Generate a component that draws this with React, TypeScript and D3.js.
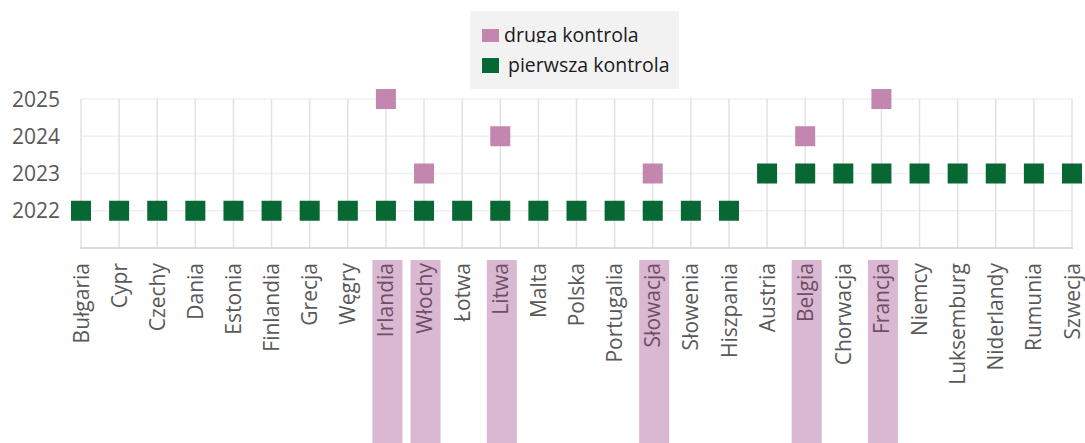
import React from "react";
import * as d3 from "d3";

// kraje w kolejności z wykresu
const countries = [
  "Bułgaria", "Cypr", "Czechy", "Dania", "Estonia", "Finlandia", "Grecja", "Węgry",
  "Irlandia", "Włochy", "Łotwa", "Litwa", "Malta", "Polska", "Portugalia", "Słowacja",
  "Słowenia", "Hiszpania", "Austria", "Belgia", "Chorwacja", "Francja", "Niemcy",
  "Luksemburg", "Niderlandy", "Rumunia", "Szwecja",
];

// rok pierwszej kontroli
const firstCheck = [
  2022, 2022, 2022, 2022, 2022, 2022, 2022, 2022, 2022, 2022, 2022, 2022, 2022, 2022,
  2022, 2022, 2022, 2022, 2023, 2023, 2023, 2023, 2023, 2023, 2023, 2023, 2023,
];

// druga kontrola (tylko część krajów)
const secondCountries = ["Irlandia", "Włochy", "Litwa", "Słowacja", "Belgia", "Francja"];
const secondCheck = [2025, 2023, 2024, 2023, 2024, 2025];

const yearTicks = [2022, 2023, 2024, 2025];

const W = 1085;
const H = 443;
const font = "'Open Sans', sans-serif";
const green = "#076833";
const pink = "#c386af";

export default function App() {
  const x = d3.scalePoint<string>().domain(countries).range([81, 1072]);
  const y = d3.scaleLinear().domain([2021, 2025]).range([248, 99]);
  const sq = 20;

  return (
    <svg
      width={W}
      height={H}
      style={{ position: "absolute", left: 0, top: 0, background: "#fff" }}
      fontFamily={font}
    >
      <defs>
        <clipPath id="legClip">
          <rect x={470} y={11} width={210} height={31.5} />
        </clipPath>
      </defs>

      {/* siatka pozioma */}
      {yearTicks.map((t) => (
        <line key={"h" + t} x1={81} x2={1072} y1={y(t)} y2={y(t)} stroke="#f0f0f0" strokeWidth={1.5} />
      ))}
      {/* siatka pionowa */}
      {countries.map((c) => (
        <line key={"v" + c} x1={x(c)} x2={x(c)} y1={y(2025)} y2={y(2021)} stroke="#e2e2e2" strokeWidth={1.5} />
      ))}
      {/* oś dolna */}
      <line x1={80} x2={1073} y1={y(2021)} y2={y(2021)} stroke="#d0d0d0" strokeWidth={1.5} />

      {/* etykiety osi Y */}
      {yearTicks.map((t) => (
        <text key={"yl" + t} x={60} y={y(t)} dy="0.36em" textAnchor="end" fontSize={21} fill="#595959">
          {t}
        </text>
      ))}

      {/* tło wyróżnionych krajów */}
      {secondCountries.map((c) => (
        <rect key={"bg" + c} x={(x(c) as number) - 13.5} y={260} width={30} height={H - 260} fill="#dab8d2" />
      ))}

      {/* etykiety osi X */}
      {countries.map((c) => {
        const hl = secondCountries.includes(c);
        return (
          <text
            key={"xl" + c}
            transform={`translate(${x(c)},263) rotate(-90)`}
            textAnchor="end"
            dy="0.36em"
            fontSize={21}
            fill={hl ? "#6d4f66" : "#595959"}
          >
            {c}
          </text>
        );
      })}

      {/* pierwsza kontrola */}
      {countries.map((c, i) => (
        <rect
          key={"f" + c}
          x={(x(c) as number) - sq / 2}
          y={y(firstCheck[i]) - sq / 2}
          width={sq}
          height={sq}
          fill={green}
        />
      ))}
      {/* druga kontrola */}
      {secondCountries.map((c, i) => (
        <rect
          key={"s" + c}
          x={(x(c) as number) - sq / 2}
          y={y(secondCheck[i]) - sq / 2}
          width={sq}
          height={sq}
          fill={pink}
        />
      ))}

      {/* legenda */}
      <rect x={470} y={11} width={209} height={78} fill="#f2f2f2" />
      <rect x={482} y={29} width={17} height={13} fill={pink} />
      <text x={504} y={42} fontSize={19.5} fill="#1a1a1a" clipPath="url(#legClip)">
        druga kontrola
      </text>
      <rect x={481.5} y={57.5} width={18} height={16} fill="#fff" />
      <rect x={482} y={58} width={17} height={15} fill={green} />
      <text x={508} y={72} fontSize={19.5} fill="#1a1a1a">
        pierwsza kontrola
      </text>
    </svg>
  );
}
